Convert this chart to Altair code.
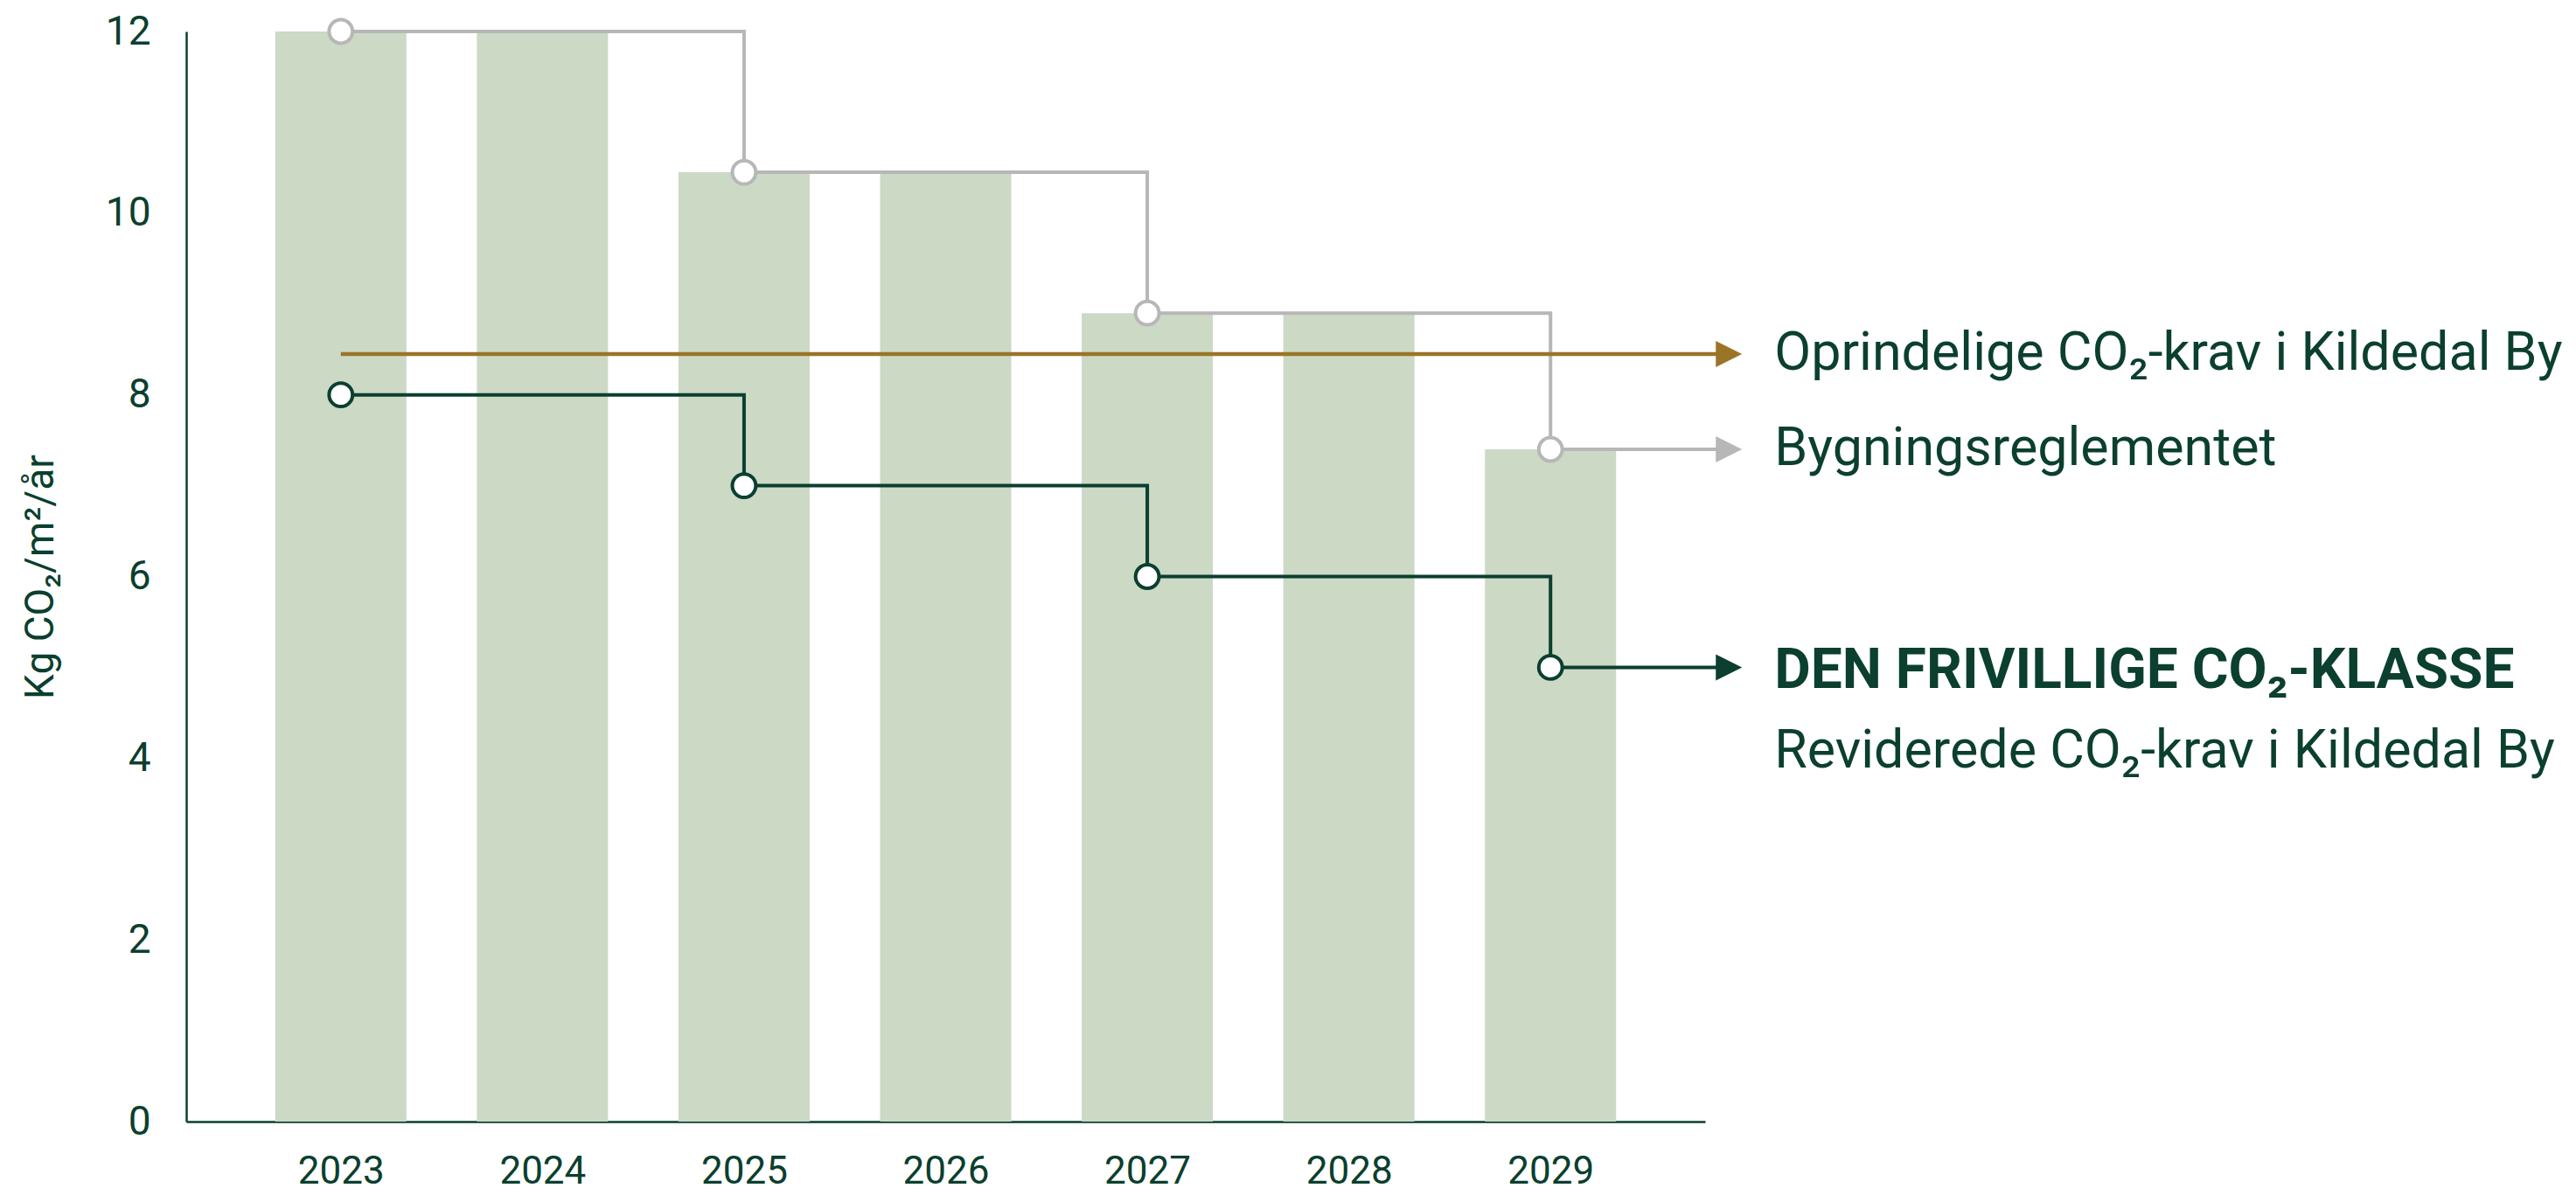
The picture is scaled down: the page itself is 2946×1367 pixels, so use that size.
import altair as alt
import pandas as pd

# ---- data ----
years = [2023, 2024, 2025, 2026, 2027, 2028, 2029]
bar_values = [12, 12, 10.45, 10.45, 8.9, 8.9, 7.4]

br_years = [2023, 2025, 2027, 2029]          # Bygningsreglementet
br_values = [12, 10.45, 8.9, 7.4]

fri_years = [2023, 2025, 2027, 2029]         # Den frivillige CO2-klasse
fri_values = [8, 7, 6, 5]

opr_start_year = 2023                        # Oprindelige CO2-krav
opr_value = 8.45

x_domain = [2022.255, 2029.745]
arrow_year = 2029.885
label_year = 2030.11
y_ticks = [0, 2, 4, 6, 8, 10, 12]

label_opr = "Oprindelige CO₂-krav i Kildedal By"
label_br = "Bygningsreglementet"
label_fri_head = "DEN FRIVILLIGE CO₂-KLASSE"
label_fri_sub = "Reviderede CO₂-krav i Kildedal By"
y_title = "Kg CO₂/m²/år"

DARK = "#0b3f2f"
GRAY = "#b7b7b7"
BROWN = "#9b7526"
BAR = "#ccd9c5"
FONT = "Roboto"

# ---- tables ----
bars_df = pd.DataFrame({"year": years, "value": bar_values})
gray_df = pd.DataFrame({"year": br_years + [arrow_year], "value": br_values + [br_values[-1]]})
green_df = pd.DataFrame({"year": fri_years + [arrow_year], "value": fri_values + [fri_values[-1]]})
brown_df = pd.DataFrame({"year": [opr_start_year, arrow_year], "value": [opr_value, opr_value]})
gray_pts = pd.DataFrame({"year": br_years, "value": br_values})
green_pts = pd.DataFrame({"year": fri_years, "value": fri_values})

xs = alt.Scale(domain=x_domain, nice=False, zero=False)
ys = alt.Scale(domain=[0, 12], nice=False)
X = alt.X("year:Q", scale=xs,
          axis=alt.Axis(values=years, format="d", title=None, grid=False,
                        ticks=False, tickSize=0, labelPadding=35, labelFontSize=44,
                        domainColor=DARK, domainWidth=2.5))
Y = alt.Y("value:Q", scale=ys,
          axis=alt.Axis(values=y_ticks, title=y_title, grid=False,
                        ticks=False, tickSize=0, labelPadding=41, labelFontSize=46,
                        titlePadding=50, domainColor=DARK, domainWidth=2.5))

bars = alt.Chart(bars_df).mark_bar(size=150, color=BAR).encode(x=X, y=Y)

def step_line(df, color, width):
    return alt.Chart(df).mark_line(color=color, strokeWidth=width,
                                   interpolate="step-after", clip=False).encode(x=X, y=Y)

gray_line = step_line(gray_df, GRAY, 4)
brown_line = alt.Chart(brown_df).mark_line(color=BROWN, strokeWidth=4.5, clip=False).encode(x=X, y=Y)
green_line = step_line(green_df, DARK, 4)

def circles(df, color):
    return alt.Chart(df).mark_point(shape="circle", filled=True, fill="white",
                                    stroke=color, strokeWidth=4, size=720,
                                    opacity=1).encode(x=X, y=Y)

arrow_shape = "M-1,-1L1,0L-1,1Z"

def arrow(value, color):
    df = pd.DataFrame({"year": [arrow_year], "value": [value]})
    return alt.Chart(df).mark_point(shape=arrow_shape, filled=True, color=color,
                                    size=900, opacity=1, clip=False).encode(x=X, y=Y)

def label(text, value, size, weight="normal", dy=0):
    df = pd.DataFrame({"year": [label_year], "value": [value], "t": [text]})
    return alt.Chart(df).mark_text(align="left", baseline="middle", font=FONT,
                                   fontSize=size, fontWeight=weight, color=DARK,
                                   dy=dy, clip=False).encode(x=X, y=Y, text="t:N")

chart = alt.layer(
    bars,
    gray_line,
    brown_line,
    green_line,
    circles(gray_pts, GRAY),
    circles(green_pts, DARK),
    arrow(opr_value, BROWN),
    arrow(br_values[-1], GRAY),
    arrow(fri_values[-1], DARK),
    label(label_opr, opr_value, 61),
    label(label_br, br_values[-1], 61),
    label(label_fri_head, fri_values[-1], 64, "bold", 5),
    label(label_fri_sub, fri_values[-1], 61, "normal", 97),
).properties(
    width=1737, height=1247,
    autosize=alt.AutoSizeParams(type="none"),
    padding={"left": 205, "top": 28, "right": 980, "bottom": 80},
).configure_view(stroke=None).configure_axis(
    labelFont=FONT, labelColor=DARK,
    titleFont=FONT, titleFontSize=46, titleColor=DARK, titleFontWeight="normal",
)

chart.save("out.html", embed_options={"renderer": "svg", "actions": False})
